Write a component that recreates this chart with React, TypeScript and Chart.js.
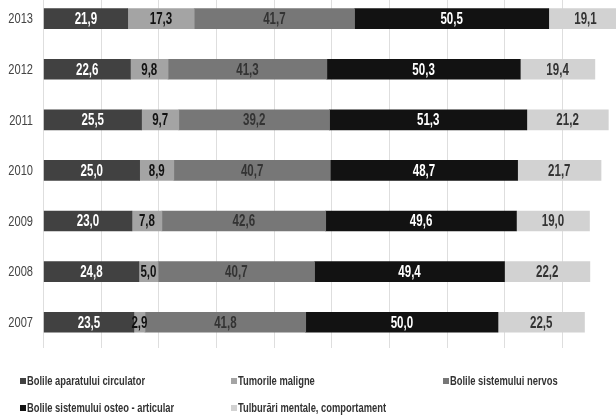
import React, { useEffect, useRef } from "react";
import { Chart, registerables } from "chart.js";

Chart.register(...registerables);

const years = ["2013", "2012", "2011", "2010", "2009", "2008", "2007"];
const circulator = [21.9, 22.6, 25.5, 25.0, 23.0, 24.8, 23.5];
const tumori = [17.3, 9.8, 9.7, 8.9, 7.8, 5.0, 2.9];
const nervos = [41.7, 41.3, 39.2, 40.7, 42.6, 40.7, 41.8];
const osteo = [50.5, 50.3, 51.3, 48.7, 49.6, 49.4, 50.0];
const mentale = [19.1, 19.4, 21.2, 21.7, 19.0, 22.2, 22.5];

const seriesNames = [
  "Bolile aparatului circulator",
  "Tumorile maligne",
  "Bolile sistemului nervos",
  "Bolile sistemului osteo - articular",
  "Tulburări mentale, comportament",
];
const seriesColors = ["#414141", "#a4a4a4", "#777777", "#121212", "#d2d2d2"];
const labelColors = ["#ffffff", "#111111", "#333333", "#ffffff", "#333333"];

const FONT = '"Liberation Sans", Arial, sans-serif';
const OFFSET_Y = 20;

function narrowText(ctx: any, text: string, x: number, y: number, sx: number) {
  ctx.save();
  ctx.translate(x, y);
  ctx.scale(sx, 1);
  ctx.fillText(text, 0, 0);
  ctx.restore();
}

const textPlugin = {
  id: "textPlugin",
  afterDatasetsDraw(chart: any) {
    const ctx = chart.ctx;
    ctx.save();
    // value labels
    ctx.font = `bold 16px ${FONT}`;
    ctx.textAlign = "center";
    ctx.textBaseline = "middle";
    chart.data.datasets.forEach((ds: any, di: number) => {
      const meta = chart.getDatasetMeta(di);
      meta.data.forEach((el: any, i: number) => {
        const v = ds.data[i];
        const p = el.getCenterPoint();
        ctx.fillStyle = labelColors[di];
        narrowText(ctx, v.toFixed(1).replace(".", ","), p.x, p.y + 1, 0.72);
      });
    });
    // year labels
    const yScale = chart.scales.y;
    ctx.font = `15px ${FONT}`;
    ctx.textAlign = "right";
    ctx.fillStyle = "#444444";
    chart.data.labels.forEach((lab: string, i: number) => {
      narrowText(ctx, lab, 33, yScale.getPixelForValue(i) + 0.5, 0.74);
    });
    ctx.restore();
  },
  afterDraw(chart: any) {
    const ctx = chart.ctx;
    ctx.save();
    ctx.font = `bold 12px ${FONT}`;
    ctx.textAlign = "left";
    ctx.textBaseline = "middle";
    const colX = [20, 231, 443];
    const rowY = [381 + OFFSET_Y, 408 + OFFSET_Y];
    chart.data.datasets.forEach((ds: any, di: number) => {
      const x = colX[di % 3];
      const y = rowY[Math.floor(di / 3)];
      ctx.fillStyle = ds.backgroundColor;
      ctx.fillRect(x, y - 3, 6, 6);
      ctx.fillStyle = "#333333";
      narrowText(ctx, ds.label, x + 7, y + 0.5, 0.78);
    });
    ctx.restore();
  },
};

export default function App() {
  const ref = useRef<HTMLCanvasElement>(null);
  useEffect(() => {
    if (!ref.current) return;
    const data = [circulator, tumori, nervos, osteo, mentale];
    const chart = new Chart(ref.current, {
      type: "bar",
      data: {
        labels: years,
        datasets: data.map((d, i) => ({
          label: seriesNames[i],
          data: d,
          backgroundColor: seriesColors[i],
          borderWidth: 0,
          barThickness: 20,
        })),
      },
      options: {
        indexAxis: "y",
        responsive: false,
        animation: false,
        devicePixelRatio: 1,
        layout: { padding: { top: 13.4, bottom: 69.5, left: 0, right: 1.3 } },
        plugins: { legend: { display: false }, tooltip: { enabled: false } },
        scales: {
          x: {
            stacked: true,
            min: 0,
            max: 160,
            ticks: { display: false, stepSize: 15 },
            grid: { color: "#dedede", drawTicks: false, lineWidth: 1 },
            border: { display: false },
          },
          y: {
            stacked: true,
            afterFit: (scale: any) => {
              scale.width = 43.5;
            },
            ticks: { display: false },
            grid: { display: false, drawTicks: false },
            border: { display: false },
          },
        },
      },
      plugins: [textPlugin],
    });
    return () => chart.destroy();
  }, []);
  return (
    <div
      style={{
        position: "fixed",
        left: 0,
        top: 0,
        width: 616,
        height: 417,
        overflow: "hidden",
        background: "#ffffff",
      }}
    >
      <canvas
        ref={ref}
        width={660}
        height={417 + OFFSET_Y}
        style={{ position: "absolute", left: 0, top: -OFFSET_Y, width: 660, height: 417 + OFFSET_Y }}
      />
    </div>
  );
}
